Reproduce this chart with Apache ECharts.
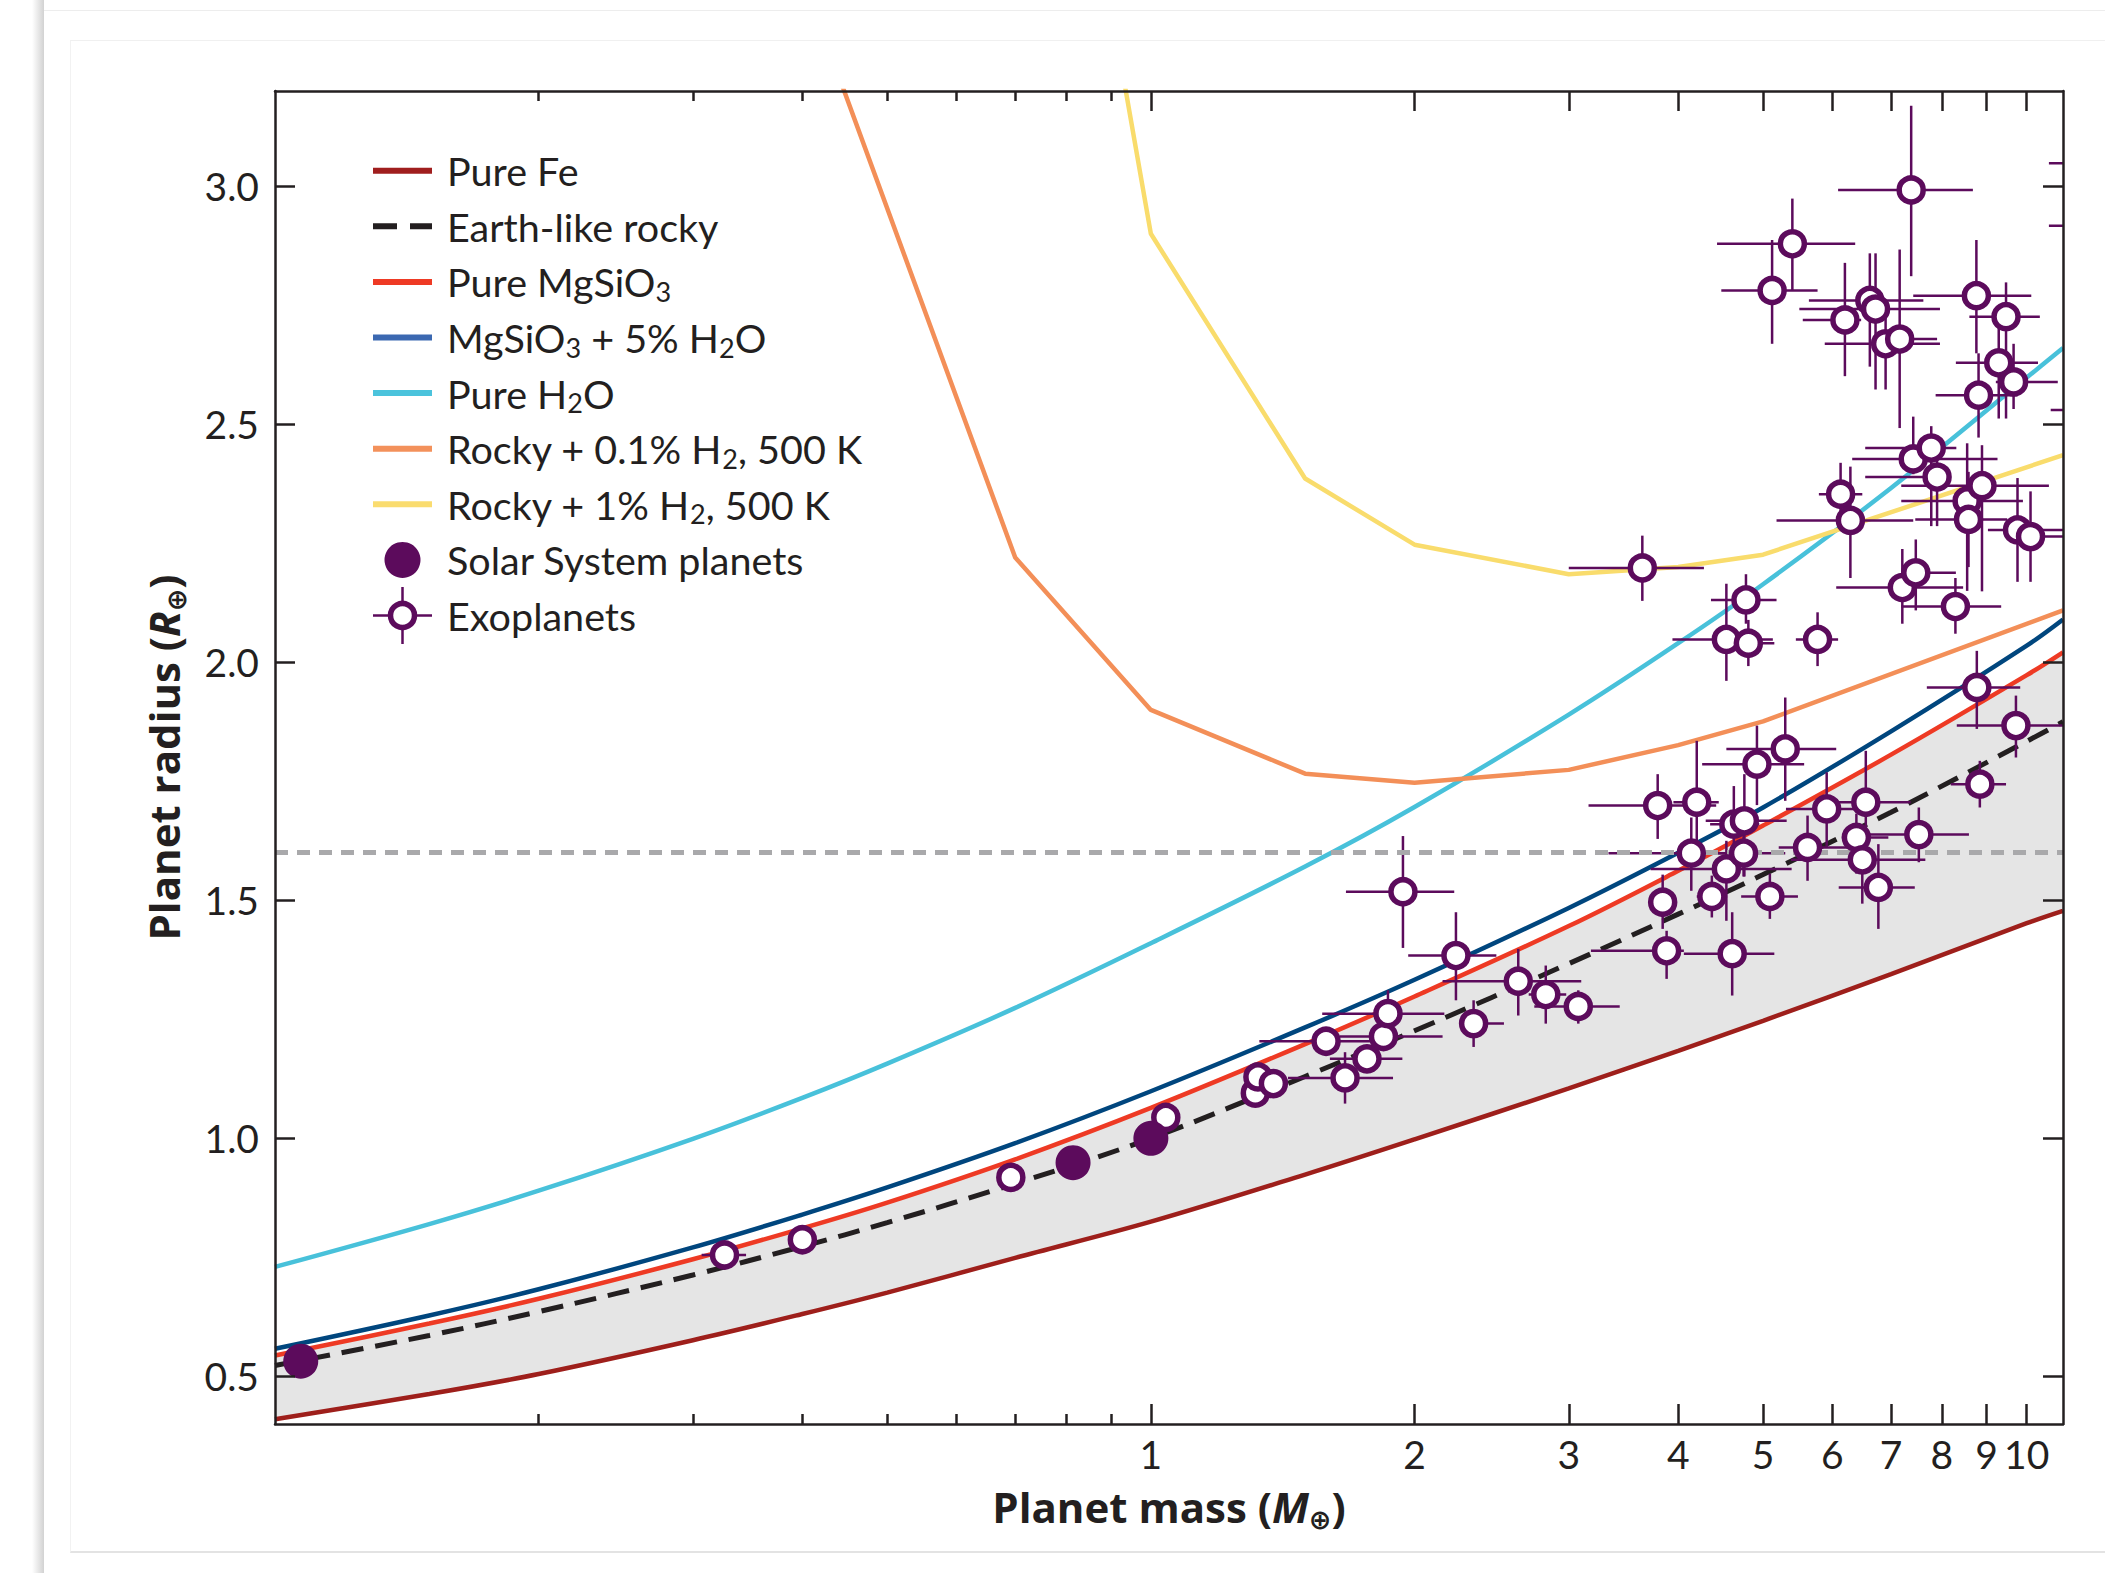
<!DOCTYPE html>
<html>
<head>
<meta charset="utf-8">
<script src="https://cdn.jsdelivr.net/npm/echarts@6/dist/echarts.min.js"></script>
<style>
html,body{margin:0;padding:0;background:#fff;}
#wrap{position:relative;width:2105px;height:1573px;overflow:hidden;background:#fff;}
#shadow{position:absolute;left:32px;top:0;width:12px;height:1573px;background:linear-gradient(to right,rgba(255,255,255,0),#d2d2d2);}
#card{position:absolute;left:44px;top:10px;width:2200px;height:1700px;background:#fff;border-top:1px solid #ededed;}
#inner{position:absolute;left:70px;top:40px;width:2200px;height:1510px;border-left:1px solid #f2f2f2;border-top:1px solid #f0f0f0;border-bottom:2px solid #e3e3e3;}
#chart{position:absolute;left:0;top:0;width:2105px;height:1573px;}
</style>
</head>
<body>
<div id="wrap">
  <div id="shadow"></div>
  <div id="card"></div>
  <div id="inner"></div>
  <div id="chart"></div>
</div>
<script>
// ---------------- data ----------------
// model curves (mass in Earth masses, radius in Earth radii)
const modelMass      = [0.1, 0.15, 0.2, 0.3, 0.4, 0.5, 0.7, 1, 1.5, 2, 3, 4, 5, 7, 10, 11];
const pureFeR        = [0.41, 0.463, 0.505, 0.576, 0.631, 0.676, 0.749, 0.825, 0.924, 0.998, 1.105, 1.184, 1.247, 1.345, 1.452, 1.478];
const earthLikeR     = [0.523, 0.586, 0.636, 0.713, 0.773, 0.823, 0.905, 1.0, 1.13, 1.226, 1.367, 1.471, 1.554, 1.685, 1.834, 1.875];
const pureMgSiO3R    = [0.544, 0.611, 0.663, 0.746, 0.811, 0.865, 0.956, 1.064, 1.198, 1.298, 1.446, 1.562, 1.657, 1.806, 1.973, 2.021];
const mgsio3WaterR   = [0.558, 0.628, 0.683, 0.771, 0.840, 0.897, 0.990, 1.099, 1.233, 1.333, 1.484, 1.600, 1.695, 1.855, 2.035, 2.09];
const pureH2OR       = [0.73, 0.82, 0.89, 0.999, 1.085, 1.157, 1.274, 1.41, 1.571, 1.696, 1.89, 2.04, 2.164, 2.366, 2.598, 2.66];
const h2Low_Mass     = [0.4, 0.7, 1.0, 1.5, 2.0, 3.0, 4.0, 5.0, 11];
const h2Low_R        = [3.44, 2.22, 1.90, 1.766, 1.747, 1.774, 1.826, 1.876, 2.109];
const h2High_Mass    = [0.9, 1.0, 1.5, 2.0, 3.0, 4.0, 5.0, 11];
const h2High_R       = [3.38, 2.90, 2.386, 2.247, 2.185, 2.20, 2.226, 2.435];

// Solar System planets (Mars, Venus, Earth)
const solarMass   = [0.107, 0.815, 1.0];
const solarRadius = [0.532, 0.949, 1.0];

// Exoplanets: mass, radius and error-bar extents
const exoMass   = [0.326,0.400,0.692,1.04,1.316,1.325,1.38,1.585,1.666,1.765,1.843,1.865,1.94,2.23,2.336,2.627,2.824,3.076,3.64,3.79,3.84,3.88,4.14,4.20,4.37,4.54,4.54,4.61,4.63,4.75,4.76,4.78,4.81,4.92,5.09,5.12,5.30,5.40,5.62,5.77,5.91,6.13,6.20,6.29,6.39,6.49,6.55,6.62,6.72,6.77,6.90,7.16,7.21,7.38,7.42,7.47,7.53,7.78,7.90,8.29,8.55,8.58,8.77,8.76,8.84,8.81,8.89,9.29,9.47,9.66,9.76,9.72,10.1,12.5,12.5,12.5];
const exoRadius = [0.755,0.787,0.918,1.044,1.095,1.129,1.115,1.204,1.127,1.167,1.214,1.262,1.518,1.384,1.241,1.33,1.302,1.277,2.198,1.699,1.496,1.394,1.599,1.706,1.508,2.048,1.566,1.388,1.66,1.599,1.667,2.131,2.04,1.786,1.508,2.781,1.818,2.879,1.611,2.048,1.692,2.353,2.719,2.298,1.632,1.585,1.706,2.76,2.742,1.527,2.669,2.679,2.157,2.992,2.427,2.188,1.638,2.45,2.389,2.117,2.339,2.30,1.947,2.770,1.744,2.561,2.371,2.629,2.726,2.589,2.278,1.867,2.264,3.048,2.917,2.53];
const exoMassLo = [0.307,0.395,0.68,1.02,1.29,1.30,1.35,1.33,1.434,1.601,1.642,1.569,1.67,1.967,2.25,2.153,2.70,2.74,3.0,3.16,3.75,3.18,3.33,3.95,4.2,3.94,3.72,4.06,4.35,4.3,4.30,4.36,4.5,4.26,4.72,4.48,4.54,4.43,5.21,5.45,5.31,5.79,5.55,5.18,6.15,5.38,5.95,5.64,5.5,6.10,5.88,6.9,6.06,6.09,6.32,7.32,6.62,6.54,6.54,7.19,7.19,7.46,7.69,7.42,8.19,7.87,7.19,8.3,8.6,9.22,9.03,8.32,9.5,10.6,10.6,10.65];
const exoMassHi = [0.345,0.405,0.705,1.06,1.34,1.35,1.41,1.80,1.89,1.937,2.153,2.163,2.22,2.48,2.53,3.10,2.98,3.43,4.28,4.42,3.95,4.06,4.54,4.45,4.55,5.13,5.39,5.15,4.95,5.3,5.32,5.18,5.15,5.57,5.48,5.77,6.06,6.37,6.31,6.09,6.62,6.49,6.47,7.42,6.95,7.66,7.37,7.62,7.96,7.45,7.96,7.9,8.46,8.68,9.26,8.30,8.59,8.31,8.16,9.35,9.9,9.5,9.83,10.12,9.47,9.76,10.6,10.3,10.35,10.85,11.5,11.5,11.5,14,14,14];
const exoRadLo  = [0.748,0.782,0.912,1.035,1.085,1.12,1.105,1.174,1.073,1.14,1.19,1.223,1.40,1.29,1.192,1.258,1.241,1.241,2.129,1.629,1.44,1.335,1.52,1.604,1.464,1.961,1.457,1.30,1.58,1.55,1.55,2.081,1.992,1.70,1.461,2.669,1.709,2.782,1.541,1.992,1.611,2.298,2.601,2.177,1.556,1.493,1.618,2.621,2.573,1.44,2.573,2.492,2.081,2.811,2.395,2.109,1.58,2.286,2.286,2.06,2.15,2.20,1.86,2.649,1.695,2.472,2.149,2.512,2.512,2.532,2.169,1.80,2.169,2.95,2.85,2.45];
const exoRadHi  = [0.762,0.792,0.924,1.053,1.105,1.14,1.125,1.233,1.181,1.195,1.24,1.311,1.635,1.475,1.29,1.398,1.363,1.311,2.266,1.765,1.554,1.436,1.674,1.835,1.552,2.165,1.625,1.475,1.74,1.65,1.765,2.185,2.089,1.867,1.556,2.887,1.926,2.974,1.678,2.105,1.769,2.419,2.839,2.411,1.682,1.657,1.814,2.859,2.859,1.618,2.758,2.867,2.238,3.169,2.516,2.258,1.695,2.496,2.452,2.177,2.46,2.40,2.024,2.887,1.793,2.649,2.456,2.702,2.798,2.669,2.387,1.93,2.359,3.15,3.0,2.6];

// axis ticks
const xMajorTicks = [1, 2, 3, 4, 5, 6, 7, 8, 9, 10];
const xMinorTicks = [0.2, 0.3, 0.4, 0.5, 0.6, 0.7, 0.8, 0.9];
const yTicks      = [0.5, 1.0, 1.5, 2.0, 2.5, 3.0];
const radiusValleyR = 1.6;

// ---------------- styles ----------------
const AX = '#231f20';
const PURPLE = '#5c0b5c';
const FONT = 'Lato, "DejaVu Sans", sans-serif';
const TFONT = '"Open Sans", "DejaVu Sans", sans-serif';
const C = {
  fe: '#9e1f1b', earth: '#231f20', mgsio3: '#ee3a24', water5: '#00467e', h2o: '#48c1da',
  h2low: '#f38f58', h2high: '#f9dc6c', band: '#e5e5e5'
};
const LEG = { fe: '#a01e1e', earth: '#231f20', mgsio3: '#ee3a24', water5: '#3b68b1', h2o: '#4bc3dc', h2low: '#f3915b', h2high: '#fadc6f' };

const pairs = (xs, ys) => xs.map((x, i) => [x, ys[i]]);
const exoData = exoMass.map((m, i) => [m, exoRadius[i], exoMassLo[i], exoMassHi[i], exoRadLo[i], exoRadHi[i]]);

function lineSeries(name, ys, color, extra) {
  return Object.assign({
    name, type: 'line', data: pairs(modelMass, ys), smooth: 0.35,
    symbol: 'none', showSymbol: false, clip: true,
    lineStyle: { color, width: 4.5 }, z: 3
  }, extra || {});
}

const titleRich = {
  b: { fontSize: 42, fontWeight: 'bold', fontFamily: TFONT, color: AX, lineHeight: 52 },
  i: { fontSize: 42, fontWeight: 'bold', fontStyle: 'italic', fontFamily: TFONT, color: AX, lineHeight: 52 },
  s: { fontSize: 27, fontWeight: 'bold', fontFamily: TFONT, color: AX, lineHeight: 30, verticalAlign: 'bottom' }
};

const axisLineStyle = { color: AX, width: 2.5 };
function xAx(pos, ticks, len, withLine, withLabel) {
  const a = {
    type: 'log', logBase: 10, min: 0.1, max: 11, position: pos, z: 10,
    axisLine: { show: withLine, onZero: false, lineStyle: axisLineStyle },
    axisTick: { show: true, inside: true, length: len, lineStyle: axisLineStyle, customValues: ticks },
    axisLabel: { show: withLabel },
    splitLine: { show: false }, minorTick: { show: false }, minorSplitLine: { show: false }
  };
  if (withLabel) {
    a.axisLabel = { show: true, customValues: ticks, formatter: v => String(Math.round(v)),
      color: AX, fontSize: 39, fontFamily: FONT, margin: 10 };
    a.name = '{b|Planet mass (}{i|M}{s|⊕}{b|)}';
    a.nameLocation = 'middle';
    a.nameGap = 56;
    a.nameTextStyle = { rich: titleRich };
  }
  return a;
}
function yAx(pos, withLabel) {
  const a = {
    type: 'value', min: 0.4, max: 3.2, position: pos, z: 10,
    axisLine: { show: true, onZero: false, lineStyle: axisLineStyle },
    axisTick: { show: true, inside: true, length: 20, lineStyle: axisLineStyle, customValues: yTicks },
    axisLabel: { show: false },
    splitLine: { show: false }
  };
  if (withLabel) {
    a.axisLabel = { show: true, customValues: yTicks, formatter: v => v.toFixed(1),
      color: AX, fontSize: 39, fontFamily: FONT, margin: 16 };
    a.name = '{b|Planet radius (}{i|R}{s|⊕}{b|)}';
    a.nameLocation = 'middle';
    a.nameGap = 86;
    a.nameTextStyle = { rich: titleRich };
  }
  return a;
}

// ---------------- legend (graphic) ----------------
const legRich = {
  n: { fontSize: 39.5, fontFamily: FONT, fill: AX, lineHeight: 46 },
  sub: { fontSize: 27, fontFamily: FONT, fill: AX, lineHeight: 24, verticalAlign: 'bottom' }
};
const legendRows = [
  { key: 'fe', text: '{n|Pure Fe}' },
  { key: 'earth', text: '{n|Earth-like rocky}', dash: true },
  { key: 'mgsio3', text: '{n|Pure MgSiO}{sub|3}' },
  { key: 'water5', text: '{n|MgSiO}{sub|3}{n| + 5% H}{sub|2}{n|O}' },
  { key: 'h2o', text: '{n|Pure H}{sub|2}{n|O}' },
  { key: 'h2low', text: '{n|Rocky + 0.1% H}{sub|2}{n|, 500 K}' },
  { key: 'h2high', text: '{n|Rocky + 1% H}{sub|2}{n|, 500 K}' },
  { key: 'solar', text: '{n|Solar System planets}' },
  { key: 'exo', text: '{n|Exoplanets}' }
];
const LX0 = 373, LX1 = 432, LCX = 402.5, LY0 = 170.7, LDY = 55.6, LTX = 447;
const graphic = [];
legendRows.forEach((row, i) => {
  const y = LY0 + LDY * i;
  if (row.key === 'solar') {
    graphic.push({ type: 'circle', shape: { cx: LCX, cy: y, r: 18 }, style: { fill: PURPLE }, z: 100 });
  } else if (row.key === 'exo') {
    graphic.push({ type: 'line', shape: { x1: LX0, y1: y, x2: LX1, y2: y }, style: { stroke: PURPLE, lineWidth: 2.5 }, z: 100 });
    graphic.push({ type: 'line', shape: { x1: LCX, y1: y - 28.5, x2: LCX, y2: y + 28.5 }, style: { stroke: PURPLE, lineWidth: 2.5 }, z: 100 });
    graphic.push({ type: 'circle', shape: { cx: LCX, cy: y, r: 12 }, style: { fill: '#fff', stroke: PURPLE, lineWidth: 5.5 }, z: 101 });
  } else {
    graphic.push({ type: 'line', shape: { x1: LX0, y1: y, x2: LX1, y2: y },
      style: { stroke: LEG[row.key], lineWidth: 6, lineDash: row.dash ? [24, 13] : null }, z: 100 });
  }
  graphic.push({ type: 'text', x: LTX, y: y, z: 100,
    style: { text: row.text, rich: legRich, fill: AX, font: '39.5px ' + FONT, align: 'left', verticalAlign: 'middle' } });
});

// ---------------- chart ----------------
const chart = echarts.init(document.getElementById('chart'), null, { renderer: 'svg', width: 2105, height: 1573 });
chart.setOption({
  animation: false,
  backgroundColor: 'transparent',
  textStyle: { fontFamily: FONT },
  grid: { left: 275, top: 91, width: 1788, height: 1333, containLabel: false },
  xAxis: [
    xAx('bottom', xMajorTicks, 20, true, true),
    xAx('bottom', xMinorTicks, 10, false, false),
    xAx('top', xMajorTicks, 20, true, false),
    xAx('top', xMinorTicks, 10, false, false)
  ],
  yAxis: [ yAx('left', true), yAx('right', false) ],
  graphic: graphic,
  series: [
    lineSeries('Pure MgSiO3', pureMgSiO3R, C.mgsio3, {
      areaStyle: { color: C.band, opacity: 1, origin: 'start' }, z: 1,
      markLine: { silent: true, symbol: ['none', 'none'], label: { show: false },
        lineStyle: { color: '#a9a9ab', width: 5, type: [13, 9] },
        data: [{ yAxis: radiusValleyR }] }
    }),
    lineSeries('Pure Fe', pureFeR, C.fe, { areaStyle: { color: '#ffffff', opacity: 1, origin: 'start' }, z: 2 }),
    lineSeries('Earth-like rocky', earthLikeR, C.earth, { lineStyle: { color: C.earth, width: 5, type: [22, 12] } }),
    lineSeries('MgSiO3 + 5% H2O', mgsio3WaterR, C.water5),
    lineSeries('Pure H2O', pureH2OR, C.h2o),
    { name: 'Rocky + 0.1% H2, 500 K', type: 'line', data: pairs(h2Low_Mass, h2Low_R), symbol: 'none',
      clip: true, lineStyle: { color: C.h2low, width: 4.5 }, z: 3 },
    { name: 'Rocky + 1% H2, 500 K', type: 'line', data: pairs(h2High_Mass, h2High_R), symbol: 'none',
      clip: true, lineStyle: { color: C.h2high, width: 4.5 }, z: 3 },
    { name: 'Exoplanet errors', type: 'custom', clip: true, z: 4, data: exoData,
      encode: { x: 0, y: 1 },
      renderItem: function (params, api) {
        const m = api.value(0), r = api.value(1);
        const a = api.coord([api.value(2), r]), b = api.coord([api.value(3), r]);
        const c = api.coord([m, api.value(4)]), d = api.coord([m, api.value(5)]);
        return { type: 'group', children: [
          { type: 'line', shape: { x1: a[0], y1: a[1], x2: b[0], y2: b[1] }, style: { stroke: PURPLE, lineWidth: 2.5 } },
          { type: 'line', shape: { x1: c[0], y1: c[1], x2: d[0], y2: d[1] }, style: { stroke: PURPLE, lineWidth: 2.5 } }
        ] };
      } },
    { name: 'Exoplanets', type: 'scatter', data: exoData.map(d => [d[0], d[1]]), clip: true,
      symbol: 'circle', symbolSize: 24, z: 5,
      itemStyle: { color: '#ffffff', borderColor: PURPLE, borderWidth: 5.5, opacity: 1 } },
    { name: 'Solar System planets', type: 'scatter', data: pairs(solarMass, solarRadius),
      symbol: 'circle', symbolSize: 35, z: 6, itemStyle: { color: PURPLE, opacity: 1 } }
  ]
});
</script>
</body>
</html>
